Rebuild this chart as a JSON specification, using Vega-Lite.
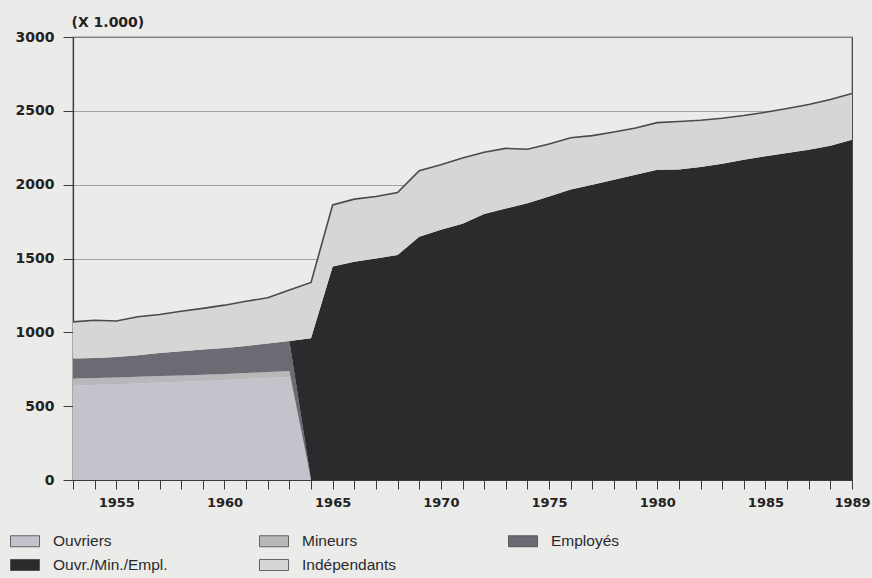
{
  "$schema": "https://vega.github.io/schema/vega-lite/v6.json",
  "width": 779,
  "height": 443,
  "autosize": {"type": "none"},
  "padding": {"left": 73, "top": 37, "right": 20, "bottom": 98},
  "background": "#ebebea",
  "config": {
    "view": {"stroke": "#3a3a3a", "strokeWidth": 1.2},
    "font": "DejaVu Sans",
    "axis": {"labelOverlap": false},
    "axisX": {"labelOverlap": false}
  },
  "data": {"values": [
    {"year":1953,"series":"Ouvriers","value":640},{"year":1954,"series":"Ouvriers","value":643},{"year":1955,"series":"Ouvriers","value":648},{"year":1956,"series":"Ouvriers","value":654},{"year":1957,"series":"Ouvriers","value":660},{"year":1958,"series":"Ouvriers","value":665},{"year":1959,"series":"Ouvriers","value":671},{"year":1960,"series":"Ouvriers","value":677},{"year":1961,"series":"Ouvriers","value":684},{"year":1962,"series":"Ouvriers","value":691},{"year":1963,"series":"Ouvriers","value":698},{"year":1964,"series":"Ouvriers","value":0},{"year":1965,"series":"Ouvriers","value":0},{"year":1966,"series":"Ouvriers","value":0},{"year":1967,"series":"Ouvriers","value":0},{"year":1968,"series":"Ouvriers","value":0},{"year":1969,"series":"Ouvriers","value":0},{"year":1970,"series":"Ouvriers","value":0},{"year":1971,"series":"Ouvriers","value":0},{"year":1972,"series":"Ouvriers","value":0},{"year":1973,"series":"Ouvriers","value":0},{"year":1974,"series":"Ouvriers","value":0},{"year":1975,"series":"Ouvriers","value":0},{"year":1976,"series":"Ouvriers","value":0},{"year":1977,"series":"Ouvriers","value":0},{"year":1978,"series":"Ouvriers","value":0},{"year":1979,"series":"Ouvriers","value":0},{"year":1980,"series":"Ouvriers","value":0},{"year":1981,"series":"Ouvriers","value":0},{"year":1982,"series":"Ouvriers","value":0},{"year":1983,"series":"Ouvriers","value":0},{"year":1984,"series":"Ouvriers","value":0},{"year":1985,"series":"Ouvriers","value":0},{"year":1986,"series":"Ouvriers","value":0},{"year":1987,"series":"Ouvriers","value":0},{"year":1988,"series":"Ouvriers","value":0},{"year":1989,"series":"Ouvriers","value":0},
    {"year":1953,"series":"Mineurs","value":48},{"year":1954,"series":"Mineurs","value":47},{"year":1955,"series":"Mineurs","value":46},{"year":1956,"series":"Mineurs","value":45},{"year":1957,"series":"Mineurs","value":44},{"year":1958,"series":"Mineurs","value":43},{"year":1959,"series":"Mineurs","value":42},{"year":1960,"series":"Mineurs","value":41},{"year":1961,"series":"Mineurs","value":40},{"year":1962,"series":"Mineurs","value":40},{"year":1963,"series":"Mineurs","value":40},{"year":1964,"series":"Mineurs","value":0},{"year":1965,"series":"Mineurs","value":0},{"year":1966,"series":"Mineurs","value":0},{"year":1967,"series":"Mineurs","value":0},{"year":1968,"series":"Mineurs","value":0},{"year":1969,"series":"Mineurs","value":0},{"year":1970,"series":"Mineurs","value":0},{"year":1971,"series":"Mineurs","value":0},{"year":1972,"series":"Mineurs","value":0},{"year":1973,"series":"Mineurs","value":0},{"year":1974,"series":"Mineurs","value":0},{"year":1975,"series":"Mineurs","value":0},{"year":1976,"series":"Mineurs","value":0},{"year":1977,"series":"Mineurs","value":0},{"year":1978,"series":"Mineurs","value":0},{"year":1979,"series":"Mineurs","value":0},{"year":1980,"series":"Mineurs","value":0},{"year":1981,"series":"Mineurs","value":0},{"year":1982,"series":"Mineurs","value":0},{"year":1983,"series":"Mineurs","value":0},{"year":1984,"series":"Mineurs","value":0},{"year":1985,"series":"Mineurs","value":0},{"year":1986,"series":"Mineurs","value":0},{"year":1987,"series":"Mineurs","value":0},{"year":1988,"series":"Mineurs","value":0},{"year":1989,"series":"Mineurs","value":0},
    {"year":1953,"series":"Employés","value":134},{"year":1954,"series":"Employés","value":136},{"year":1955,"series":"Employés","value":139},{"year":1956,"series":"Employés","value":145},{"year":1957,"series":"Employés","value":156},{"year":1958,"series":"Employés","value":164},{"year":1959,"series":"Employés","value":170},{"year":1960,"series":"Employés","value":176},{"year":1961,"series":"Employés","value":184},{"year":1962,"series":"Employés","value":193},{"year":1963,"series":"Employés","value":203},{"year":1964,"series":"Employés","value":0},{"year":1965,"series":"Employés","value":0},{"year":1966,"series":"Employés","value":0},{"year":1967,"series":"Employés","value":0},{"year":1968,"series":"Employés","value":0},{"year":1969,"series":"Employés","value":0},{"year":1970,"series":"Employés","value":0},{"year":1971,"series":"Employés","value":0},{"year":1972,"series":"Employés","value":0},{"year":1973,"series":"Employés","value":0},{"year":1974,"series":"Employés","value":0},{"year":1975,"series":"Employés","value":0},{"year":1976,"series":"Employés","value":0},{"year":1977,"series":"Employés","value":0},{"year":1978,"series":"Employés","value":0},{"year":1979,"series":"Employés","value":0},{"year":1980,"series":"Employés","value":0},{"year":1981,"series":"Employés","value":0},{"year":1982,"series":"Employés","value":0},{"year":1983,"series":"Employés","value":0},{"year":1984,"series":"Employés","value":0},{"year":1985,"series":"Employés","value":0},{"year":1986,"series":"Employés","value":0},{"year":1987,"series":"Employés","value":0},{"year":1988,"series":"Employés","value":0},{"year":1989,"series":"Employés","value":0},
    {"year":1953,"series":"Ouvr./Min./Empl.","value":0},{"year":1954,"series":"Ouvr./Min./Empl.","value":0},{"year":1955,"series":"Ouvr./Min./Empl.","value":0},{"year":1956,"series":"Ouvr./Min./Empl.","value":0},{"year":1957,"series":"Ouvr./Min./Empl.","value":0},{"year":1958,"series":"Ouvr./Min./Empl.","value":0},{"year":1959,"series":"Ouvr./Min./Empl.","value":0},{"year":1960,"series":"Ouvr./Min./Empl.","value":0},{"year":1961,"series":"Ouvr./Min./Empl.","value":0},{"year":1962,"series":"Ouvr./Min./Empl.","value":0},{"year":1963,"series":"Ouvr./Min./Empl.","value":0},{"year":1964,"series":"Ouvr./Min./Empl.","value":960},{"year":1965,"series":"Ouvr./Min./Empl.","value":1445},{"year":1966,"series":"Ouvr./Min./Empl.","value":1478},{"year":1967,"series":"Ouvr./Min./Empl.","value":1500},{"year":1968,"series":"Ouvr./Min./Empl.","value":1524},{"year":1969,"series":"Ouvr./Min./Empl.","value":1648},{"year":1970,"series":"Ouvr./Min./Empl.","value":1694},{"year":1971,"series":"Ouvr./Min./Empl.","value":1735},{"year":1972,"series":"Ouvr./Min./Empl.","value":1802},{"year":1973,"series":"Ouvr./Min./Empl.","value":1838},{"year":1974,"series":"Ouvr./Min./Empl.","value":1875},{"year":1975,"series":"Ouvr./Min./Empl.","value":1920},{"year":1976,"series":"Ouvr./Min./Empl.","value":1968},{"year":1977,"series":"Ouvr./Min./Empl.","value":1999},{"year":1978,"series":"Ouvr./Min./Empl.","value":2033},{"year":1979,"series":"Ouvr./Min./Empl.","value":2067},{"year":1980,"series":"Ouvr./Min./Empl.","value":2101},{"year":1981,"series":"Ouvr./Min./Empl.","value":2103},{"year":1982,"series":"Ouvr./Min./Empl.","value":2120},{"year":1983,"series":"Ouvr./Min./Empl.","value":2142},{"year":1984,"series":"Ouvr./Min./Empl.","value":2169},{"year":1985,"series":"Ouvr./Min./Empl.","value":2192},{"year":1986,"series":"Ouvr./Min./Empl.","value":2215},{"year":1987,"series":"Ouvr./Min./Empl.","value":2237},{"year":1988,"series":"Ouvr./Min./Empl.","value":2264},{"year":1989,"series":"Ouvr./Min./Empl.","value":2305},
    {"year":1953,"series":"Indépendants","value":249},{"year":1954,"series":"Indépendants","value":256},{"year":1955,"series":"Indépendants","value":244},{"year":1956,"series":"Indépendants","value":261},{"year":1957,"series":"Indépendants","value":261},{"year":1958,"series":"Indépendants","value":271},{"year":1959,"series":"Indépendants","value":279},{"year":1960,"series":"Indépendants","value":290},{"year":1961,"series":"Indépendants","value":303},{"year":1962,"series":"Indépendants","value":310},{"year":1963,"series":"Indépendants","value":345},{"year":1964,"series":"Indépendants","value":378},{"year":1965,"series":"Indépendants","value":418},{"year":1966,"series":"Indépendants","value":424},{"year":1967,"series":"Indépendants","value":420},{"year":1968,"series":"Indépendants","value":423},{"year":1969,"series":"Indépendants","value":446},{"year":1970,"series":"Indépendants","value":441},{"year":1971,"series":"Indépendants","value":446},{"year":1972,"series":"Indépendants","value":418},{"year":1973,"series":"Indépendants","value":408},{"year":1974,"series":"Indépendants","value":365},{"year":1975,"series":"Indépendants","value":356},{"year":1976,"series":"Indépendants","value":350},{"year":1977,"series":"Indépendants","value":333},{"year":1978,"series":"Indépendants","value":324},{"year":1979,"series":"Indépendants","value":317},{"year":1980,"series":"Indépendants","value":319},{"year":1981,"series":"Indépendants","value":325},{"year":1982,"series":"Indépendants","value":316},{"year":1983,"series":"Indépendants","value":308},{"year":1984,"series":"Indépendants","value":299},{"year":1985,"series":"Indépendants","value":298},{"year":1986,"series":"Indépendants","value":301},{"year":1987,"series":"Indépendants","value":306},{"year":1988,"series":"Indépendants","value":313},{"year":1989,"series":"Indépendants","value":312}
  ]},
  "transform": [
    {"calculate": "indexof(['Ouvriers','Mineurs','Employés','Ouvr./Min./Empl.','Indépendants'], datum.series)", "as": "stackOrder"}
  ],
  "encoding": {
    "x": {
      "field": "year", "type": "quantitative",
      "scale": {"domain": [1953, 1989], "nice": false, "zero": false},
      "axis": {
        "values": [1953,1954,1955,1956,1957,1958,1959,1960,1961,1962,1963,1964,1965,1966,1967,1968,1969,1970,1971,1972,1973,1974,1975,1976,1977,1978,1979,1980,1981,1982,1983,1984,1985,1986,1987,1988,1989],
        "format": "d",
        "labelExpr": "indexof([1955,1960,1965,1970,1975,1980,1985,1989], datum.value) >= 0 ? datum.label : ''",
        "labelOverlap": false,
        "labelSeparation": 0,
        "labelFlush": false,
        "title": null,
        "grid": false,
        "tickSize": 9,
        "tickColor": "#3a3a3a",
        "tickWidth": 1,
        "domainColor": "#3a3a3a",
        "domainWidth": 1.2,
        "labelFont": "DejaVu Sans",
        "labelFontWeight": "bold",
        "labelFontSize": 13,
        "labelColor": "#222222",
        "labelPadding": 7
      }
    },
    "y": {
      "field": "value", "type": "quantitative", "stack": "zero",
      "scale": {"domain": [0, 3000], "nice": false},
      "axis": {
        "values": [0, 500, 1000, 1500, 2000, 2500, 3000],
        "format": "d",
        "title": "(X 1.000)",
        "titleAngle": 0,
        "titleAlign": "left",
        "titleBaseline": "alphabetic",
        "titleX": -2,
        "titleY": -11,
        "titleFont": "DejaVu Sans",
        "titleFontWeight": "bold",
        "titleFontSize": 14,
        "titleColor": "#222222",
        "grid": true,
        "gridColor": "#8f8f8f",
        "gridWidth": 0.8,
        "tickSize": 10,
        "tickColor": "#3a3a3a",
        "domainColor": "#3a3a3a",
        "domainWidth": 1.2,
        "labelFont": "DejaVu Sans",
        "labelFontWeight": "bold",
        "labelFontSize": 14,
        "labelColor": "#222222",
        "labelPadding": 9
      }
    },
    "order": {"field": "stackOrder", "type": "quantitative"}
  },
  "layer": [
    {
      "mark": {"type": "area", "interpolate": "linear"},
      "encoding": {
        "color": {
          "field": "series", "type": "nominal",
          "scale": {
            "domain": ["Ouvriers", "Mineurs", "Employés", "Ouvr./Min./Empl.", "Indépendants"],
            "range": ["#c4c2ca", "#b8b8ba", "#6c6b73", "#2b2a2d", "#d6d6d6"]
          },
          "legend": {
            "title": null,
            "orient": "none",
            "legendX": -63,
            "legendY": 489,
            "direction": "horizontal",
            "columns": 3,
            "gridAlign": "all",
            "columnPadding": 89,
            "rowPadding": -2,
            "padding": 0,
            "symbolType": "M-1,-0.38H1V0.38H-1Z",
            "symbolSize": 841,
            "symbolStrokeColor": "#444444",
            "symbolStrokeWidth": 0.8,
            "symbolOpacity": 1,
            "labelOffset": 13,
            "labelFont": "Liberation Sans",
            "labelFontSize": 15.5,
            "labelColor": "#2a2a2a",
            "labelLimit": 200
          }
        }
      }
    },
    {
      "mark": {"type": "line", "color": "#4a4a4a", "strokeWidth": 1.6, "interpolate": "linear"},
      "encoding": {
        "detail": {"field": "series"},
        "strokeOpacity": {"condition": {"test": "datum.series === 'Indépendants'", "value": 1}, "value": 0}
      }
    }
  ]
}
